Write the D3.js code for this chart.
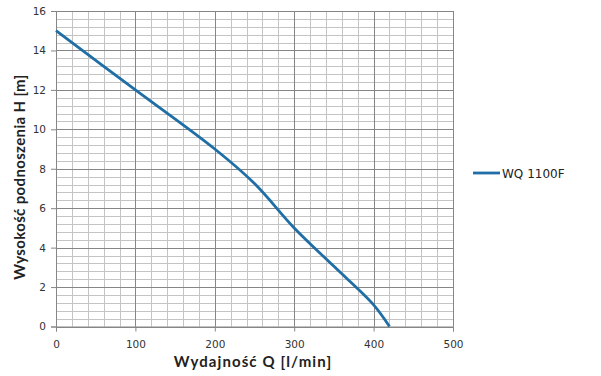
<!DOCTYPE html>
<html>
<head>
<meta charset="utf-8">
<script src="https://cdn.jsdelivr.net/npm/d3@7"></script>
<style>
  body { margin: 0; background: #fff; }
  .tick text { font-family: "DejaVu Sans", Verdana, sans-serif; font-size: 10.5px; fill: #333; }
  .label-style { font-family: "Lato", "DejaVu Sans", sans-serif; font-weight: bold; font-size: 15px; fill: #222; }
</style>
</head>
<body>
<div id="chart"></div>
<script>
// curve
const flow = [0, 100, 200, 250, 300, 350, 400, 420];
const head = [15, 12, 9, 7.25, 5, 3.05, 1.1, 0];
const seriesName = 'WQ 1100F';
const xTicks = [0, 100, 200, 300, 400, 500];
const yTicks = [0, 2, 4, 6, 8, 10, 12, 14, 16];

const margin = {top: 11, right: 148, bottom: 49.5, left: 56};
const width = 601 - margin.left - margin.right;
const height = 376 - margin.top - margin.bottom;

const svg = d3.select('#chart').append('svg')
    .attr('width', 601)
    .attr('height', 376)
  .append('g')
    .attr('transform', 'translate(' + margin.left + ',' + margin.top + ')');

const x = d3.scaleLinear().domain([0, 500]).range([0, width]);
const y = d3.scaleLinear().domain([0, 16]).range([height, 0]);

// minor grid
svg.append('g')
  .selectAll('line')
  .data(d3.range(0, 501, 20))
  .join('line')
    .attr('x1', d => Math.round(x(d)) + 0.5)
    .attr('x2', d => Math.round(x(d)) + 0.5)
    .attr('y1', 0).attr('y2', height)
    .attr('stroke', '#c4c4c4');
svg.append('g')
  .selectAll('line')
  .data(d3.range(0, 40.01).map(i => i * 0.4))
  .join('line')
    .attr('y1', d => Math.round(y(d)) + 0.5)
    .attr('y2', d => Math.round(y(d)) + 0.5)
    .attr('x1', 0).attr('x2', width)
    .attr('stroke', '#c4c4c4');

// major grid
svg.append('g')
  .selectAll('line')
  .data(xTicks)
  .join('line')
    .attr('x1', d => Math.round(x(d)) + 0.5)
    .attr('x2', d => Math.round(x(d)) + 0.5)
    .attr('y1', 0).attr('y2', height)
    .attr('stroke', '#868686');
svg.append('g')
  .selectAll('line')
  .data(yTicks)
  .join('line')
    .attr('y1', d => Math.round(y(d)) + 0.5)
    .attr('y2', d => Math.round(y(d)) + 0.5)
    .attr('x1', 0).attr('x2', width)
    .attr('stroke', '#868686');

// X Axis
const gx = svg.append('g')
    .attr('transform', 'translate(0,' + height + ')')
    .call(d3.axisBottom(x).tickValues(xTicks).tickSize(5).tickPadding(9).tickFormat(d3.format('d')));
gx.select('.domain').attr('stroke', '#868686');
gx.selectAll('.tick line').attr('stroke', '#868686');

// Y Axis
const gy = svg.append('g')
    .call(d3.axisLeft(y).tickValues(yTicks).tickSize(5).tickPadding(5).tickFormat(d3.format('d')));
gy.select('.domain').attr('stroke', '#868686');
gy.selectAll('.tick line').attr('stroke', '#868686');

// axis labels
svg.append('text')
    .attr('class', 'label-style')
    .attr('x', 253 - margin.left)
    .attr('y', 367 - margin.top)
    .attr('text-anchor', 'middle')
    .style('letter-spacing', '1.1px')
    .text('Wydajność Q [l/min]');
svg.append('text')
    .attr('class', 'label-style')
    .attr('transform', 'translate(' + (25 - margin.left) + ',' + (177 - margin.top) + ') rotate(-90)')
    .attr('text-anchor', 'middle')
    .style('letter-spacing', '0.35px')
    .text('Wysokość podnoszenia H [m]');

// curve
const pts = flow.map((q, i) => ({q: q, h: head[i]}));
const line = d3.line()
    .x(d => x(d.q))
    .y(d => y(d.h))
    .curve(d3.curveCatmullRom.alpha(0.5));

svg.append('path')
    .datum(pts)
    .attr('fill', 'none')
    .attr('stroke', '#1f6ea6')
    .attr('stroke-width', 2.8)
    .attr('stroke-linejoin', 'round')
    .attr('d', line);

// legend
const legend = svg.append('g')
    .attr('transform', 'translate(' + (473 - margin.left) + ',' + (173 - margin.top) + ')');
legend.append('line')
    .attr('x1', 0).attr('x2', 27)
    .attr('stroke', '#1f6ea6')
    .attr('stroke-width', 2.8);
legend.append('text')
    .attr('x', 29)
    .attr('y', 4.5)
    .style('font-family', '"DejaVu Sans", sans-serif')
    .style('font-size', '12px')
    .style('fill', '#222')
    .text(seriesName);
</script>
</body>
</html>
